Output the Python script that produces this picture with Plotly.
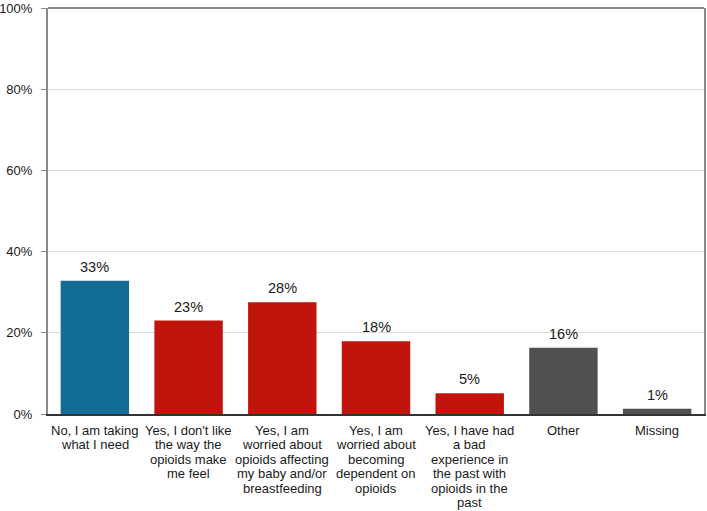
import plotly.graph_objects as go

categories = [
    "No, I am taking<br>what I need",
    "Yes, I don't like<br>the way the<br>opioids make<br>me feel",
    "Yes, I am<br>worried about<br>opioids affecting<br>my baby and/or<br>breastfeeding",
    "Yes, I am<br>worried about<br>becoming<br>dependent on<br>opioids",
    "Yes, I have had<br>a bad<br>experience in<br>the past with<br>opioids in the<br>past",
    "Other",
    "Missing",
]
values = [32.8, 23.0, 27.5, 17.9, 5.1, 16.3, 1.3]
value_labels = ["33%", "23%", "28%", "18%", "5%", "16%", "1%"]
bar_colors = ["#126C96", "#C0140C", "#C0140C", "#C0140C", "#C0140C", "#505050", "#505050"]
y_ticks = [0, 20, 40, 60, 80, 100]
y_tick_labels = ["0%", "20%", "40%", "60%", "80%", "100%"]

FONT = "Liberation Sans, Arial, sans-serif"
TEXT = "#1A1A1A"

xpos = list(range(len(categories)))

fig = go.Figure(
    go.Bar(
        x=xpos,
        y=values,
        marker=dict(color=bar_colors, line=dict(width=0)),
        hoverinfo="skip",
    )
)

# value labels above bars
for xi, v, t in zip(xpos, values, value_labels):
    fig.add_annotation(
        x=xi, xref="x", y=v, yref="y",
        text=t, showarrow=False,
        xanchor="center", yanchor="bottom",
        yshift=4,
        font=dict(family=FONT, size=14.5, color=TEXT),
    )

fig.update_layout(
    width=707,
    height=511,
    margin=dict(l=48, r=3, t=8, b=97, autoexpand=False),
    paper_bgcolor="white",
    plot_bgcolor="white",
    font=dict(family=FONT, size=13, color=TEXT),
    bargap=0.27,
    showlegend=False,
)

fig.update_xaxes(
    tickmode="array",
    tickvals=xpos,
    ticktext=categories,
    showticklabels=False,
    automargin=False,
    range=[-0.5, len(categories) - 0.5],
    showline=True,
    linecolor="#333333",
    linewidth=1.5,
    ticks="",
    showgrid=False,
)

# category labels, one annotation per line for tighter line spacing
for xi, label in zip(xpos, categories):
    for li, line in enumerate(label.split("<br>")):
        fig.add_annotation(
            x=xi, xref="x", y=0, yref="y",
            text=line, showarrow=False,
            xanchor="center", yanchor="middle",
            yshift=-(16 + li * 14.5),
            font=dict(family=FONT, size=13, color=TEXT),
        )

fig.update_yaxes(
    range=[0, 100],
    tickmode="array",
    tickvals=y_ticks,
    ticktext=y_tick_labels,
    automargin=False,
    showline=True,
    linecolor="#8A8A8A",
    linewidth=2,
    mirror=True,
    ticks="outside",
    ticklen=5,
    tickcolor="#8A8A8A",
    ticklabelstandoff=6,
    showgrid=True,
    gridcolor="#DADADA",
    gridwidth=1,
    zeroline=False,
    tickfont=dict(family=FONT, size=13, color=TEXT),
)

fig.add_shape(
    type="line", xref="paper", yref="paper", x0=0, x1=1, y0=1, y1=1,
    line=dict(color="#8A8A8A", width=2),
)

fig.write_html("out.html")
